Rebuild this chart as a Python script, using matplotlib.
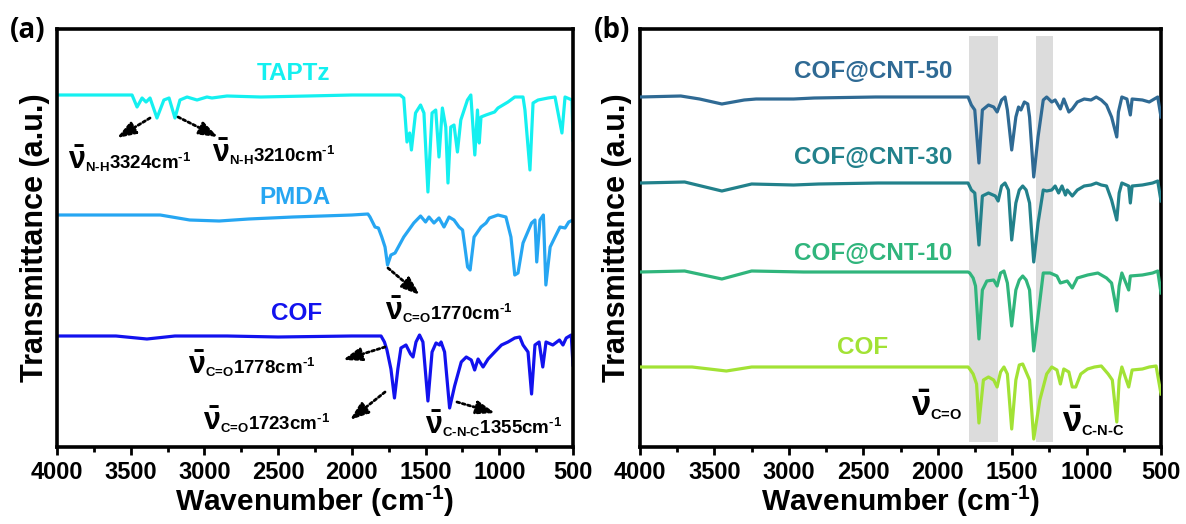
import matplotlib
matplotlib.use("Agg")
import matplotlib.pyplot as plt
from matplotlib.ticker import MultipleLocator

plt.rcParams["font.family"] = ["Liberation Sans", "DejaVu Sans"]
plt.rcParams["font.weight"] = "bold"
plt.rcParams["axes.labelweight"] = "bold"
plt.rcParams["mathtext.fontset"] = "custom"
plt.rcParams["mathtext.rm"] = "Liberation Sans:bold"
plt.rcParams["mathtext.it"] = "Liberation Sans:bold"
plt.rcParams["mathtext.bf"] = "Liberation Sans:bold"
plt.rcParams["mathtext.sf"] = "Liberation Sans:bold"

# ---- panel (a): monomers and COF (relative transmittance, 0 = baseline) ----
taptz_wn = [4000, 3800, 3491, 3457, 3423, 3396, 3369, 3322, 3275, 3240, 3200,
            3166, 3118, 3050, 2983, 2949, 2847, 2617, 2300, 2000, 1877, 1673,
            1648, 1626, 1608, 1596, 1568, 1534, 1511, 1484, 1456, 1431, 1409,
            1386, 1363, 1348, 1329, 1307, 1284, 1261, 1216, 1193, 1166, 1148,
            1136, 1124, 1090, 1032, 1009, 975, 941, 895, 839, 826, 792, 771,
            737, 669, 622, 575, 554, 507, 500]
taptz_t = [0, 0, 0, -12, -3, -7, -3, -23, -5, -3, -23,
           -5, -2, -5, -2, -3, -1, -2, -1, 0, 0, 0,
           -3, -47, -38, -55, -18, -10, -18, -97, -18, -15, -62,
           -13, -32, -88, -32, -30, -57, -25, -5, 0, -60, -15,
           -48, -22, -20, -17, -13, -10, -7, -2, -2, -15, -75, -8,
           -5, -3, -2, -38, -2, -5, -45]

pmda_wn = [4000, 3300, 3100, 2900, 2700, 2400, 2000, 1891, 1877, 1843, 1820,
           1797, 1775, 1758, 1735, 1707, 1648, 1580, 1534, 1500, 1477, 1443,
           1409, 1375, 1341, 1307, 1273, 1249, 1215, 1198, 1171, 1124, 1090,
           1067, 1009, 955, 921, 895, 873, 839, 781, 758, 746, 724, 701, 684,
           655, 622, 588, 554, 529, 500]
pmda_t = [0, 0, -5, -6, -4, -2, 0, 1, -2, -12, -13,
          -22, -32, -50, -40, -38, -22, -8, -1, -7, -2, -8,
          -3, -12, -2, -5, -12, -15, -52, -55, -22, -12, -8,
          -3, 0, -2, -22, -60, -58, -28, -8, -5, -47, -5, 0, -70,
          -32, -22, -12, -13, -7, -5]

cof_a_wn = [4000, 3600, 3390, 3200, 2847, 2500, 2000, 1802, 1779, 1762, 1735,
            1711, 1688, 1667, 1633, 1602, 1585, 1565, 1541, 1518, 1484, 1456,
            1429, 1405, 1395, 1371, 1337, 1303, 1258, 1224, 1190, 1167, 1144,
            1110, 1076, 1031, 985, 941, 895, 861, 839, 805, 781, 758, 730,
            705, 683, 637, 592, 568, 546, 512, 500]
cof_a_t = [0, 0, -3, 0, 0, -1, 0, 0, -6, -14, -33,
           -62, -33, -12, -9, -18, -21, -6, 1, -6, -65, -16,
           -7, -9, -6, -16, -72, -50, -26, -21, -24, -34, -23,
           -31, -23, -16, -9, -6, -2, -1, -9, -16, -58, -9, -6,
           -31, -6, -9, -4, -9, -2, 1, -29]

# ---- panel (b): COF and COF@CNT composites ----
cnt50_wn = [4000, 3726, 3600, 3450, 3300, 3220, 2968, 2830, 2417, 1842, 1796,
            1774, 1751, 1723, 1700, 1659, 1624, 1601, 1571, 1548, 1532, 1503,
            1475, 1457, 1441, 1418, 1395, 1383, 1355, 1326, 1291, 1268, 1234,
            1211, 1176, 1153, 1119, 1096, 1062, 1016, 970, 935, 901, 866, 832,
            797, 786, 763, 729, 706, 694, 625, 579, 545, 522, 500]
cnt50_t = [0, 1, -2, -7, -3, -2, -2, -1, 0, 0, 0,
           -8, -13, -66, -13, -8, -10, -15, -3, 0, -13, -53,
           -20, -10, -13, -5, -7, -20, -80, -40, -3, 0, -5,
           -3, -12, -2, -15, -12, -5, -2, -3, 0, -3, -8, -20,
           -40, -15, 0, -2, -18, -2, -3, -5, -2, 0, -20]

cnt30_wn = [4000, 3700, 3450, 3250, 2968, 2800, 2400, 1842, 1796, 1774, 1751,
            1723, 1700, 1659, 1613, 1594, 1571, 1548, 1525, 1503, 1475, 1452,
            1429, 1406, 1383, 1355, 1326, 1291, 1268, 1234, 1211, 1188, 1165,
            1142, 1130, 1096, 1062, 1016, 970, 935, 901, 866, 832, 797, 781,
            763, 717, 706, 694, 625, 556, 522, 500]
cnt30_t = [0, 1, -8, -1, -2, -1, 0, 0, 0, -7, -10,
           -62, -13, -10, -13, -18, -3, 0, -7, -57, -20, -7,
           -3, -7, -20, -79, -40, -7, -8, -7, -3, -10, -3,
           -12, -7, -13, -7, -3, -2, 0, -2, -3, -17, -37, -10,
           0, -3, -20, -3, -2, 0, 2, -18]

cnt10_wn = [4000, 3700, 3450, 3250, 2900, 2400, 1842, 1796, 1785, 1762, 1746,
            1723, 1700, 1670, 1624, 1601, 1578, 1555, 1532, 1503, 1475, 1452,
            1429, 1406, 1383, 1355, 1326, 1291, 1245, 1199, 1176, 1130, 1096,
            1062, 993, 924, 866, 832, 797, 781, 763, 717, 706, 625, 556, 522,
            500]
cnt10_t = [0, 1, -7, 1, 0, 0, 0, 0, -1, -6, -14,
           -67, -18, -9, -8, -14, -1, 1, -11, -54, -18, -8,
           -4, -8, -18, -79, -44, -1, -1, -4, -11, -9, -16,
           -6, -3, -1, -6, -11, -39, -14, -1, -18, -4, -3, -1, 1,
           -21]

cof_b_wn = [4000, 3650, 3420, 3250, 2900, 2400, 1842, 1796, 1785, 1762, 1739,
            1723, 1693, 1659, 1624, 1601, 1578, 1555, 1532, 1503, 1475, 1452,
            1429, 1406, 1383, 1355, 1314, 1268, 1234, 1199, 1176, 1153, 1119,
            1096, 1073, 1039, 993, 947, 901, 855, 827, 797, 781, 763, 717,
            694, 625, 579, 533, 500]
cof_b_t = [0, 0, -4, 0, 0, 0, 0, 0, -2, -7, -17,
           -56, -13, -10, -13, -20, -5, 0, -7, -62, -13, 2,
           3, -5, -13, -72, -33, -7, 0, -3, -17, -2, -5,
           -20, -20, -7, -2, 0, 1, -7, -13, -55, -13, 0, -20,
           -3, -2, 0, 1, -27]

series_a = [
    ("TAPTz", taptz_wn, taptz_t, 352, "#14F0F0", 2399, 374),
    ("PMDA", pmda_wn, pmda_t, 232, "#26A6F2", 2386, 249),
    ("COF", cof_a_wn, cof_a_t, 111, "#1212EE", 2372, 134),
]
series_b = [
    ("COF@CNT-50", cnt50_wn, cnt50_t, 350, "#2F6A94", 2435, 376),
    ("COF@CNT-30", cnt30_wn, cnt30_t, 264, "#22818B", 2435, 289),
    ("COF@CNT-10", cnt10_wn, cnt10_t, 175, "#30B57C", 2435, 194),
    ("COF", cof_b_wn, cof_b_t, 80, "#A2E235", 2502, 100),
]

shade_bands = [(1790, 1595), (1340, 1226)]


def style_axes(ax):
    ax.set_xlim(4000, 500)
    ax.set_ylim(0, 418)
    ax.xaxis.set_major_locator(MultipleLocator(500))
    ax.xaxis.set_minor_locator(MultipleLocator(250))
    ax.tick_params(axis="x", which="major", direction="out", length=6,
                   width=2, labelsize=17, pad=4)
    ax.tick_params(axis="x", which="minor", direction="out", length=3.5,
                   width=2)
    ax.set_yticks([])
    for sp in ax.spines.values():
        sp.set_linewidth(2.6)
    ax.set_xlabel("Wavenumber (cm$^{\\text{-1}}$)", fontsize=21.5, labelpad=0)
    ax.set_ylabel("Transmittance (a.u.)", fontsize=22)
    ax.yaxis.set_label_coords(-0.0145, 0.5)


def nu_label(ax, x, y, sub, rest, nu_size, sub_size):
    nu = ax.text(x, y, r"$\bar{\nu}$", fontsize=nu_size, va="baseline",
                 ha="left")
    ax.annotate(r"$_{\text{%s}}$%s" % (sub, rest), xy=(1, y),
                xycoords=(nu, "data"), xytext=(-0.5, 0),
                textcoords="offset points", fontsize=sub_size,
                va="baseline", ha="left")


def dotted_arrow(ax, tail, head):
    ax.annotate("", xy=head, xytext=tail,
                arrowprops=dict(arrowstyle="-|>,head_length=0.75,head_width=0.27",
                                color="black", lw=2, linestyle=(0, (1, 1)),
                                shrinkA=0, shrinkB=0, mutation_scale=15))


fig = plt.figure(figsize=(11.86, 5.24), dpi=100)
ax_a = fig.add_axes([57 / 1186, 1 - 447 / 524, 516 / 1186, 418 / 524])
ax_b = fig.add_axes([640 / 1186, 1 - 447 / 524, 521 / 1186, 418 / 524])

for name, wn, t, off, color, lx, ly in series_a:
    ax_a.plot(wn, [v + off for v in t], color=color, lw=2.3)
    ax_a.text(lx, ly, name, color=color, fontsize=17.5, ha="center",
              va="center")

for name, wn, t, off, color, lx, ly in series_b:
    ax_b.plot(wn, [v + off for v in t], color=color, lw=2.3, zorder=3)
    ax_b.text(lx, ly, name, color=color, fontsize=17.5, ha="center",
              va="center")

for hi, lo in shade_bands:
    ax_b.axvspan(hi, lo, ymin=5 / 418, ymax=411 / 418, color="#DCDCDC",
                 lw=0, zorder=1)

style_axes(ax_a)
style_axes(ax_b)

# annotations panel (a)
dotted_arrow(ax_a, (3369, 329), (3593, 309))
dotted_arrow(ax_a, (3179, 330), (2908, 310))
nu_label(ax_a, 3925, 278, "N-H", "3324cm$^{\\text{-1}}$", 22, 13.5)
nu_label(ax_a, 2949, 285, "N-H", "3210cm$^{\\text{-1}}$", 22, 13.5)

dotted_arrow(ax_a, (1755, 179), (1538, 152))
nu_label(ax_a, 1775, 127, "C=O", "1770cm$^{\\text{-1}}$", 22, 13.5)

dotted_arrow(ax_a, (1775, 100), (2060, 87))
nu_label(ax_a, 3111, 73, "C=O", "1778cm$^{\\text{-1}}$", 22, 13.5)
dotted_arrow(ax_a, (1775, 55), (2013, 27))
nu_label(ax_a, 3010, 17, "C=O", "1723cm$^{\\text{-1}}$", 22, 13.5)
dotted_arrow(ax_a, (1287, 45), (1029, 34))
nu_label(ax_a, 1504, 13, "C-N-C", "1355cm$^{\\text{-1}}$", 22, 13.5)

# annotations panel (b)
nu_label(ax_b, 2180, 31, "C=O", "", 25, 15)
nu_label(ax_b, 1165, 15, "C-N-C", "", 25, 15)

fig.text(28 / 1186, 1 - 30 / 524, "(a)", family="Open Sans",
         fontweight="bold", fontsize=20, ha="center", va="center")
fig.text(612 / 1186, 1 - 30 / 524, "(b)", family="Open Sans",
         fontweight="bold", fontsize=20, ha="center", va="center")

fig.savefig("out.png", dpi=100)
